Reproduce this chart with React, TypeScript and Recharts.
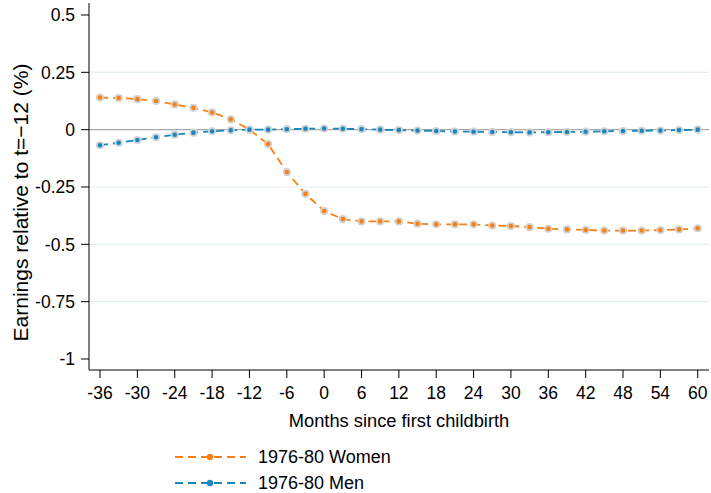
import React from "react";
import {
  LineChart,
  Line,
  XAxis,
  YAxis,
  ReferenceLine,
  Label,
} from "recharts";

const months = [
  -36, -33, -30, -27, -24, -21, -18, -15, -12, -9, -6, -3, 0, 3, 6, 9, 12, 15,
  18, 21, 24, 27, 30, 33, 36, 39, 42, 45, 48, 51, 54, 57, 60,
];

const women = [
  0.14, 0.138, 0.133, 0.125, 0.11, 0.095, 0.075, 0.045, 0, -0.063, -0.185,
  -0.28, -0.355, -0.39, -0.4, -0.4, -0.4, -0.41, -0.413, -0.413, -0.413,
  -0.418, -0.42, -0.425, -0.432, -0.435, -0.437, -0.44, -0.44, -0.44, -0.438,
  -0.435, -0.43,
];

const men = [
  -0.068, -0.057, -0.045, -0.033, -0.022, -0.013, -0.007, -0.003, 0, 0, 0.002,
  0.004, 0.005, 0.004, 0.002, 0, -0.002, -0.004, -0.006, -0.008, -0.009,
  -0.01, -0.011, -0.012, -0.011, -0.01, -0.009, -0.007, -0.006, -0.005,
  -0.004, -0.002, 0,
];

const xTicks = [-36, -30, -24, -18, -12, -6, 0, 6, 12, 18, 24, 30, 36, 42, 48, 54, 60];
const yTicks = [0.5, 0.25, 0, -0.25, -0.5, -0.75, -1];
const gridValues = [0.25, -0.25, -0.5, -0.75];

const seriesNames = ["1976-80 Women", "1976-80 Men"];
const ORANGE = "#fb7f12";
const BLUE = "#1787c2";
const FONT = "'Liberation Sans', Arial, sans-serif";

const data = months.map((m, i) => ({ month: m, women: women[i], men: men[i] }));

function LegendBox() {
  const items = [
    { name: seriesNames[0], color: ORANGE },
    { name: seriesNames[1], color: BLUE },
  ];
  return (
    <div
      style={{
        position: "absolute",
        left: 170,
        top: 444,
        fontFamily: FONT,
        fontSize: 18,
        color: "#000",
      }}
    >
      {items.map((it) => (
        <div key={it.name} style={{ display: "flex", alignItems: "center", height: 26 }}>
          <svg width={88} height={26}>
            <line
              x1={5}
              x2={76}
              y1={13}
              y2={13}
              stroke={it.color}
              strokeWidth={1.8}
              strokeDasharray="8 5"
            />
            <circle cx={40} cy={13} r={3.2} fill={it.color} />
          </svg>
          <span>{it.name}</span>
        </div>
      ))}
    </div>
  );
}

export default function App() {
  const dotStyle = (color: string) => ({
    r: 3.2,
    fill: color,
    stroke: "#d2d2d2",
    strokeWidth: 1.8,
    strokeDasharray: "0",
  });

  return (
    <div style={{ position: "absolute", left: 0, top: 0, width: 711, height: 493, background: "#fff" }}>
      <LineChart
        width={711}
        height={493}
        data={data}
        margin={{ top: 3, right: 2, left: 0, bottom: 63 }}
      >
        {gridValues.map((v) => (
          <ReferenceLine key={v} y={v} stroke="#e4eef0" strokeWidth={1.2} />
        ))}
        <ReferenceLine y={0} stroke="#a8a8a8" strokeWidth={1.3} />
        <XAxis
          dataKey="month"
          type="number"
          domain={[-37.77, 61.81]}
          ticks={xTicks}
          interval={0}
          height={60}
          tickSize={8}
          tickMargin={9}
          stroke="#000"
          tick={{ fill: "#000", fontSize: 17.5, fontFamily: FONT }}
          allowDataOverflow
        >
          <Label
            value="Months since first childbirth"
            position="insideBottom"
            offset={3}
            style={{ fill: "#000", fontSize: 18.3, fontFamily: FONT }}
          />
        </XAxis>
        <YAxis
          type="number"
          domain={[-1.048, 0.5523]}
          ticks={yTicks}
          interval={0}
          width={89}
          tickSize={8}
          tickMargin={6}
          stroke="#000"
          tick={{ fill: "#000", fontSize: 17.5, fontFamily: FONT }}
          allowDataOverflow
        >
          <Label
            content={({ viewBox }: any) => {
              const cy = viewBox.y + viewBox.height / 2 + 16;
              return (
                <text
                  x={20}
                  y={cy}
                  transform={`rotate(-90, 20, ${cy})`}
                  textAnchor="middle"
                  dominantBaseline="central"
                  style={{ fill: "#000", fontSize: 21, fontFamily: FONT }}
                >
                  Earnings relative to t=−12 (%)
                </text>
              );
            }}
          />
        </YAxis>
        <Line
          type="linear"
          dataKey="women"
          name={seriesNames[0]}
          stroke={ORANGE}
          strokeWidth={1.8}
          strokeDasharray="8 5"
          dot={dotStyle(ORANGE)}
          isAnimationActive={false}
        />
        <Line
          type="linear"
          dataKey="men"
          name={seriesNames[1]}
          stroke={BLUE}
          strokeWidth={1.8}
          strokeDasharray="8 5"
          dot={dotStyle(BLUE)}
          isAnimationActive={false}
        />
      </LineChart>
      <LegendBox />
    </div>
  );
}
